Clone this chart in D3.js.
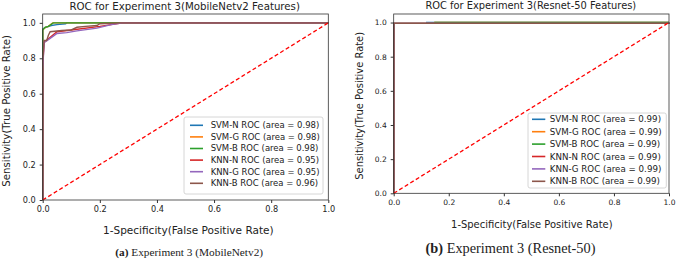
<!DOCTYPE html>
<html>
<head>
<meta charset="utf-8">
<script src="https://cdn.jsdelivr.net/npm/d3@7"></script>
<style>
  body { margin: 0; background: #fff; }
  svg text { font-family: "DejaVu Sans", sans-serif; fill: #222; }
</style>
</head>
<body>
<svg id="chart" width="676" height="262"></svg>
<script>
// legend labels and colours (matplotlib default cycle)
const seriesNames = ["SVM-N", "SVM-G", "SVM-B", "KNN-N", "KNN-G", "KNN-B"];
const seriesColors = ["#1f77b4", "#ff7f0e", "#2ca02c", "#d62728", "#9467bd", "#8c564b"];
const ticks = [0, 0.2, 0.4, 0.6, 0.8, 1.0];

// panel (a) MobileNetv2 - areas and [fpr, tpr] points
const aucMobile = [0.98, 0.98, 0.98, 0.95, 0.95, 0.96];
const rocMobile = [
  [[0,0],[0,0.965],[0.01,0.975],[0.03,0.985],[0.05,0.99],[0.08,0.995],[0.085,1],[1,1]],
  [[0,0],[0,0.96],[0.01,0.975],[0.02,0.98],[0.035,1],[1,1]],
  [[0,0],[0,0.96],[0.008,0.975],[0.02,0.98],[0.037,1],[1,1]],
  [[0,0],[0,0.76],[0.005,0.89],[0.02,0.91],[0.05,0.95],[0.1,0.96],[0.2,0.98],[0.28,1],[1,1]],
  [[0,0],[0,0.74],[0.005,0.89],[0.02,0.905],[0.037,0.925],[0.05,0.94],[0.084,0.945],[0.12,0.955],[0.19,0.97],[0.24,0.99],[0.28,1],[1,1]],
  [[0,0],[0,0.78],[0.005,0.9],[0.014,0.9],[0.02,0.93],[0.026,0.95],[0.067,0.957],[0.1,0.96],[0.12,0.975],[0.15,0.98],[0.19,0.985],[0.2,0.995],[0.28,1],[1,1]]
];

// panel (b) Resnet-50
const aucResnet = [0.99, 0.99, 0.99, 0.99, 0.99, 0.99];
const rocResnet = [
  [[0,0],[0,0.995],[0.12,0.995],[0.12,1],[1,1]],
  [[0,0],[0,0.995],[0.15,0.995],[0.15,1],[1,1]],
  [[0,0],[0,0.995],[0.15,0.995],[0.15,1],[1,1]],
  [[0,0],[0,0.995],[1,0.995],[1,1]],
  [[0,0],[0,0.995],[1,0.995],[1,1]],
  [[0,0],[0,0.995],[1,0.995],[1,1]]
];

const svg = d3.select("#chart");

// pick a font size so that the text spans the width measured on the reference
function fitSize(sel, width) {
  sel.style("font-size", "10px");
  const w = sel.node().getComputedTextLength();
  return 10 * width / w;
}

function drawPanel(cfg) {
  const x = d3.scaleLinear().domain([0, 1]).range([cfg.left, cfg.right]);
  const y = d3.scaleLinear().domain([0, 1.05]).range([cfg.bottom, cfg.top]);
  const g = svg.append("g");

  // curves
  const line = d3.line().x(d => x(d[0])).y(d => y(d[1]));
  cfg.roc.forEach((pts, i) => {
    g.append("path")
      .attr("d", line(pts))
      .attr("fill", "none")
      .attr("stroke", seriesColors[i])
      .attr("stroke-width", 1.4);
  });

  // chance line
  g.append("path")
    .attr("d", line([[0, 0], [1, 1]]))
    .attr("stroke", "#ff0000")
    .attr("stroke-width", 1.3)
    .attr("stroke-dasharray", "4,2.5");

  // frame
  g.append("rect")
    .attr("x", cfg.left).attr("y", cfg.top)
    .attr("width", cfg.right - cfg.left).attr("height", cfg.bottom - cfg.top)
    .attr("fill", "none").attr("stroke", "#333").attr("stroke-width", 0.8);

  // axes
  const xa = g.append("g")
    .attr("transform", `translate(0,${cfg.bottom})`)
    .call(d3.axisBottom(x).tickValues(ticks).tickFormat(d3.format(".1f")).tickSize(3).tickPadding(3));
  const ya = g.append("g")
    .attr("transform", `translate(${cfg.left},0)`)
    .call(d3.axisLeft(y).tickValues(ticks).tickFormat(d3.format(".1f")).tickSize(3).tickPadding(4));
  const tickFs = fitSize(xa.select("text"), cfg.tickW);
  [xa, ya].forEach(a => {
    a.select(".domain").remove();
    a.selectAll("line").attr("stroke", "#333");
    a.selectAll("text").style("font-size", tickFs + "px").attr("fill", "#222");
  });

  // title and labels
  const title = g.append("text")
    .attr("x", cfg.titleX).attr("y", 6)
    .attr("text-anchor", "middle").attr("dy", "0.35em")
    .text(cfg.title);
  title.style("font-size", fitSize(title, cfg.titleW) + "px");

  const xlab = g.append("text")
    .attr("x", cfg.xlabX).attr("y", cfg.xlabY)
    .attr("text-anchor", "middle").attr("dy", "0.35em")
    .text("1-Specificity(False Positive Rate)");
  xlab.style("font-size", fitSize(xlab, cfg.xlabW) + "px");

  const ylab = g.append("text")
    .attr("transform", `translate(${cfg.ylabX},${cfg.ylabY}) rotate(-90)`)
    .attr("text-anchor", "middle").attr("dy", "0.35em")
    .text("Sensitivity(True Positive Rate)");
  ylab.style("font-size", fitSize(ylab, cfg.ylabW) + "px");

  // legend
  const lg = g.append("g").attr("transform", `translate(${cfg.legX},${cfg.legY})`);
  lg.append("rect")
    .attr("width", cfg.legW).attr("height", cfg.legH)
    .attr("rx", 2).attr("fill", "#fff").attr("fill-opacity", 0.8)
    .attr("stroke", "#ccc").attr("stroke-width", 0.8);
  seriesNames.forEach((name, i) => {
    const yy = cfg.legFirst + i * cfg.legStep;
    lg.append("line")
      .attr("x1", cfg.swatch[0]).attr("x2", cfg.swatch[1]).attr("y1", yy).attr("y2", yy)
      .attr("stroke", seriesColors[i]).attr("stroke-width", 1.6);
    lg.append("text")
      .attr("class", "leg")
      .attr("x", cfg.legText).attr("y", yy).attr("dy", "0.35em")
      .text(`${name} ROC (area = ${cfg.auc[i].toFixed(2)})`);
  });
  const legFs = fitSize(lg.select("text.leg"), cfg.legTextW);
  lg.selectAll("text.leg").style("font-size", legFs + "px");

  // caption
  const cap = svg.append("text")
    .attr("x", cfg.capX).attr("y", cfg.capY)
    .attr("text-anchor", "middle").attr("dy", "0.35em")
    .style("font-family", "'Liberation Serif', serif")
    .attr("fill", "#111");
  cap.append("tspan").style("font-weight", "bold").text(cfg.capBold);
  cap.append("tspan").text(" " + cfg.capText);
  cap.style("font-size", fitSize(cap, cfg.capW) + "px");
}

drawPanel({
  left: 42.7, right: 328.3, top: 14, bottom: 200,
  roc: rocMobile, auc: aucMobile,
  title: "ROC for Experiment 3(MobileNetv2 Features)", titleX: 184.7, titleW: 230.7,
  tickW: 13,
  xlabX: 188.3, xlabY: 230, xlabW: 171,
  ylabX: 6, ylabY: 110.8, ylabW: 152,
  legX: 184, legY: 117, legW: 139, legH: 77, legFirst: 8.3, legStep: 11.6,
  swatch: [6, 19], legText: 26.7, legTextW: 108.7,
  capX: 189.2, capY: 252, capW: 148, capBold: "(a)", capText: "Experiment 3 (MobileNetv2)"
});

drawPanel({
  left: 393.7, right: 669, top: 14, bottom: 193.3,
  roc: rocResnet, auc: aucResnet,
  title: "ROC for Experiment 3(Resnet-50 Features)", titleX: 530.8, titleW: 211,
  tickW: 12,
  xlabX: 531.8, xlabY: 224.3, xlabW: 161.7,
  ylabX: 359.7, ylabY: 105.8, ylabW: 148,
  legX: 528, legY: 113, legW: 138.3, legH: 75, legFirst: 6.3, legStep: 12.4,
  swatch: [4, 17.3], legText: 21.7, legTextW: 111.6,
  capX: 510.5, capY: 248.3, capW: 170, capBold: "(b)", capText: "Experiment 3 (Resnet-50)"
});
</script>
</body>
</html>
